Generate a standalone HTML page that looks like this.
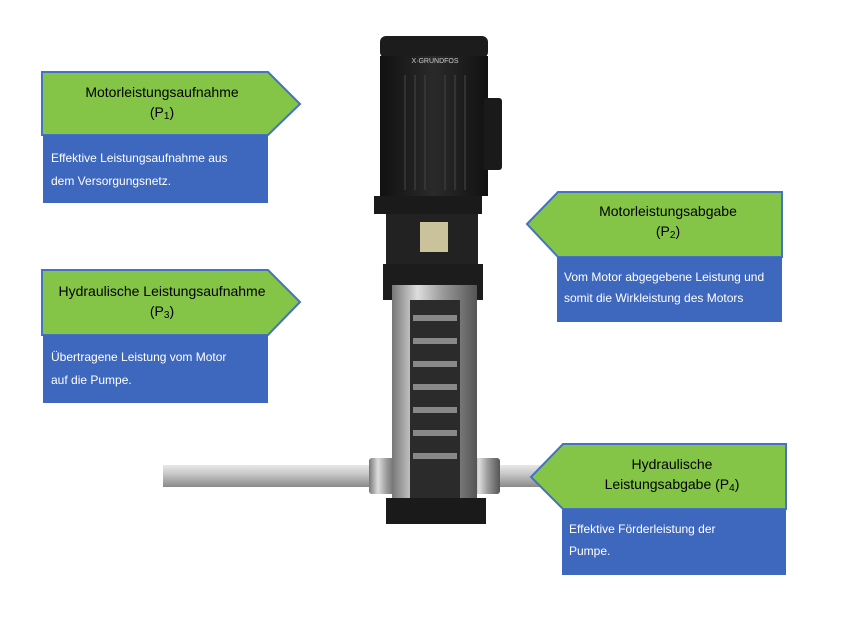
<!DOCTYPE html>
<html><head><meta charset="utf-8"><style>
body{margin:0;background:#fff;}
svg{display:block}
text{font-family:"Liberation Sans",sans-serif;}
</style></head><body>
<svg width="861" height="634" viewBox="0 0 861 634" xmlns="http://www.w3.org/2000/svg">
<defs>
<linearGradient id="pipe" x1="0" y1="0" x2="0" y2="1"><stop offset="0" stop-color="#e8e8e8"/><stop offset="0.4" stop-color="#c8c8c8"/><stop offset="1" stop-color="#8a8a8a"/></linearGradient>
<linearGradient id="steel" x1="0" y1="0" x2="1" y2="0"><stop offset="0" stop-color="#777"/><stop offset="0.3" stop-color="#ddd"/><stop offset="0.6" stop-color="#999"/><stop offset="1" stop-color="#555"/></linearGradient>
<linearGradient id="motor" x1="0" y1="0" x2="1" y2="0"><stop offset="0" stop-color="#111"/><stop offset="0.5" stop-color="#2a2a2a"/><stop offset="1" stop-color="#111"/></linearGradient>
</defs>
<!-- pipe -->
<rect x="163" y="465" width="400" height="22" fill="url(#pipe)"/>
<!-- pump -->
<rect x="369" y="458" width="30" height="36" rx="3" fill="url(#steel)"/>
<rect x="470" y="458" width="30" height="36" rx="3" fill="url(#steel)"/>
<rect x="380" y="36" width="108" height="22" rx="6" fill="#1c1c1c"/>
<rect x="380" y="56" width="108" height="140" fill="url(#motor)"/>
<g stroke="#3a3a3a" stroke-width="1.5">
<line x1="405" y1="75" x2="405" y2="190"/><line x1="415" y1="75" x2="415" y2="190"/><line x1="425" y1="75" x2="425" y2="190"/><line x1="445" y1="75" x2="445" y2="190"/><line x1="455" y1="75" x2="455" y2="190"/><line x1="465" y1="75" x2="465" y2="190"/></g>
<rect x="484" y="98" width="18" height="72" rx="3" fill="#1a1a1a"/>
<text x="435" y="63" font-size="7" fill="#ccc" text-anchor="middle">X·GRUNDFOS</text>
<rect x="374" y="196" width="108" height="18" fill="#1a1a1a"/>
<rect x="386" y="214" width="92" height="50" fill="#222"/>
<rect x="420" y="222" width="28" height="30" fill="#c9c29a"/>
<path d="M383 264 H483 V300 H383 Z" fill="#1c1c1c"/>
<rect x="392" y="285" width="85" height="215" fill="url(#steel)"/>
<rect x="410" y="300" width="50" height="200" fill="#2b2b2b"/>
<g fill="#888">
<rect x="413" y="315" width="44" height="6"/><rect x="413" y="338" width="44" height="6"/><rect x="413" y="361" width="44" height="6"/><rect x="413" y="384" width="44" height="6"/><rect x="413" y="407" width="44" height="6"/><rect x="413" y="430" width="44" height="6"/><rect x="413" y="453" width="44" height="6"/></g>
<rect x="386" y="498" width="100" height="26" fill="#1a1a1a"/>
<!-- box 1 -->
<polygon points="42,72 268,72 300,104 268,135 42,135" fill="#84c446" stroke="#4472c4" stroke-width="2"/>
<rect x="43" y="135" width="225" height="68" fill="#3e67be"/>
<text x="162" y="97" font-size="14" text-anchor="middle">Motorleistungsaufnahme</text>
<text x="162" y="117" font-size="14" text-anchor="middle">(P<tspan font-size="10" dy="2">1</tspan><tspan dy="-2">)</tspan></text>
<text x="51" y="162" font-size="12" fill="#fff">Effektive Leistungsaufnahme aus</text>
<text x="51" y="185" font-size="12" fill="#fff">dem Versorgungsnetz.</text>
<!-- box 3 -->
<polygon points="42,270 268,270 300,302 268,335 42,335" fill="#84c446" stroke="#4472c4" stroke-width="2"/>
<rect x="43" y="335" width="225" height="68" fill="#3e67be"/>
<text x="162" y="296" font-size="14" text-anchor="middle">Hydraulische Leistungsaufnahme</text>
<text x="162" y="316" font-size="14" text-anchor="middle">(P<tspan font-size="10" dy="2">3</tspan><tspan dy="-2">)</tspan></text>
<text x="51" y="361" font-size="12" fill="#fff">Übertragene Leistung vom Motor</text>
<text x="51" y="384" font-size="12" fill="#fff">auf die Pumpe.</text>
<!-- box 2 -->
<polygon points="527,224 558,192 782,192 782,257 558,257" fill="#84c446" stroke="#4472c4" stroke-width="2"/>
<rect x="557" y="257" width="225" height="65" fill="#3e67be"/>
<text x="668" y="216" font-size="14" text-anchor="middle">Motorleistungsabgabe</text>
<text x="668" y="236" font-size="14" text-anchor="middle">(P<tspan font-size="10" dy="2">2</tspan><tspan dy="-2">)</tspan></text>
<text x="564" y="281" font-size="12" fill="#fff">Vom Motor abgegebene Leistung und</text>
<text x="564" y="302" font-size="12" fill="#fff">somit die Wirkleistung des Motors</text>
<!-- box 4 -->
<polygon points="531,477 563,444 786,444 786,509 563,509" fill="#84c446" stroke="#4472c4" stroke-width="2"/>
<rect x="562" y="509" width="224" height="66" fill="#3e67be"/>
<text x="672" y="469" font-size="14" text-anchor="middle">Hydraulische</text>
<text x="672" y="489" font-size="14" text-anchor="middle">Leistungsabgabe (P<tspan font-size="10" dy="2">4</tspan><tspan dy="-2">)</tspan></text>
<text x="569" y="533" font-size="12" fill="#fff">Effektive Förderleistung der</text>
<text x="569" y="555" font-size="12" fill="#fff">Pumpe.</text>
</svg>
</body></html>
